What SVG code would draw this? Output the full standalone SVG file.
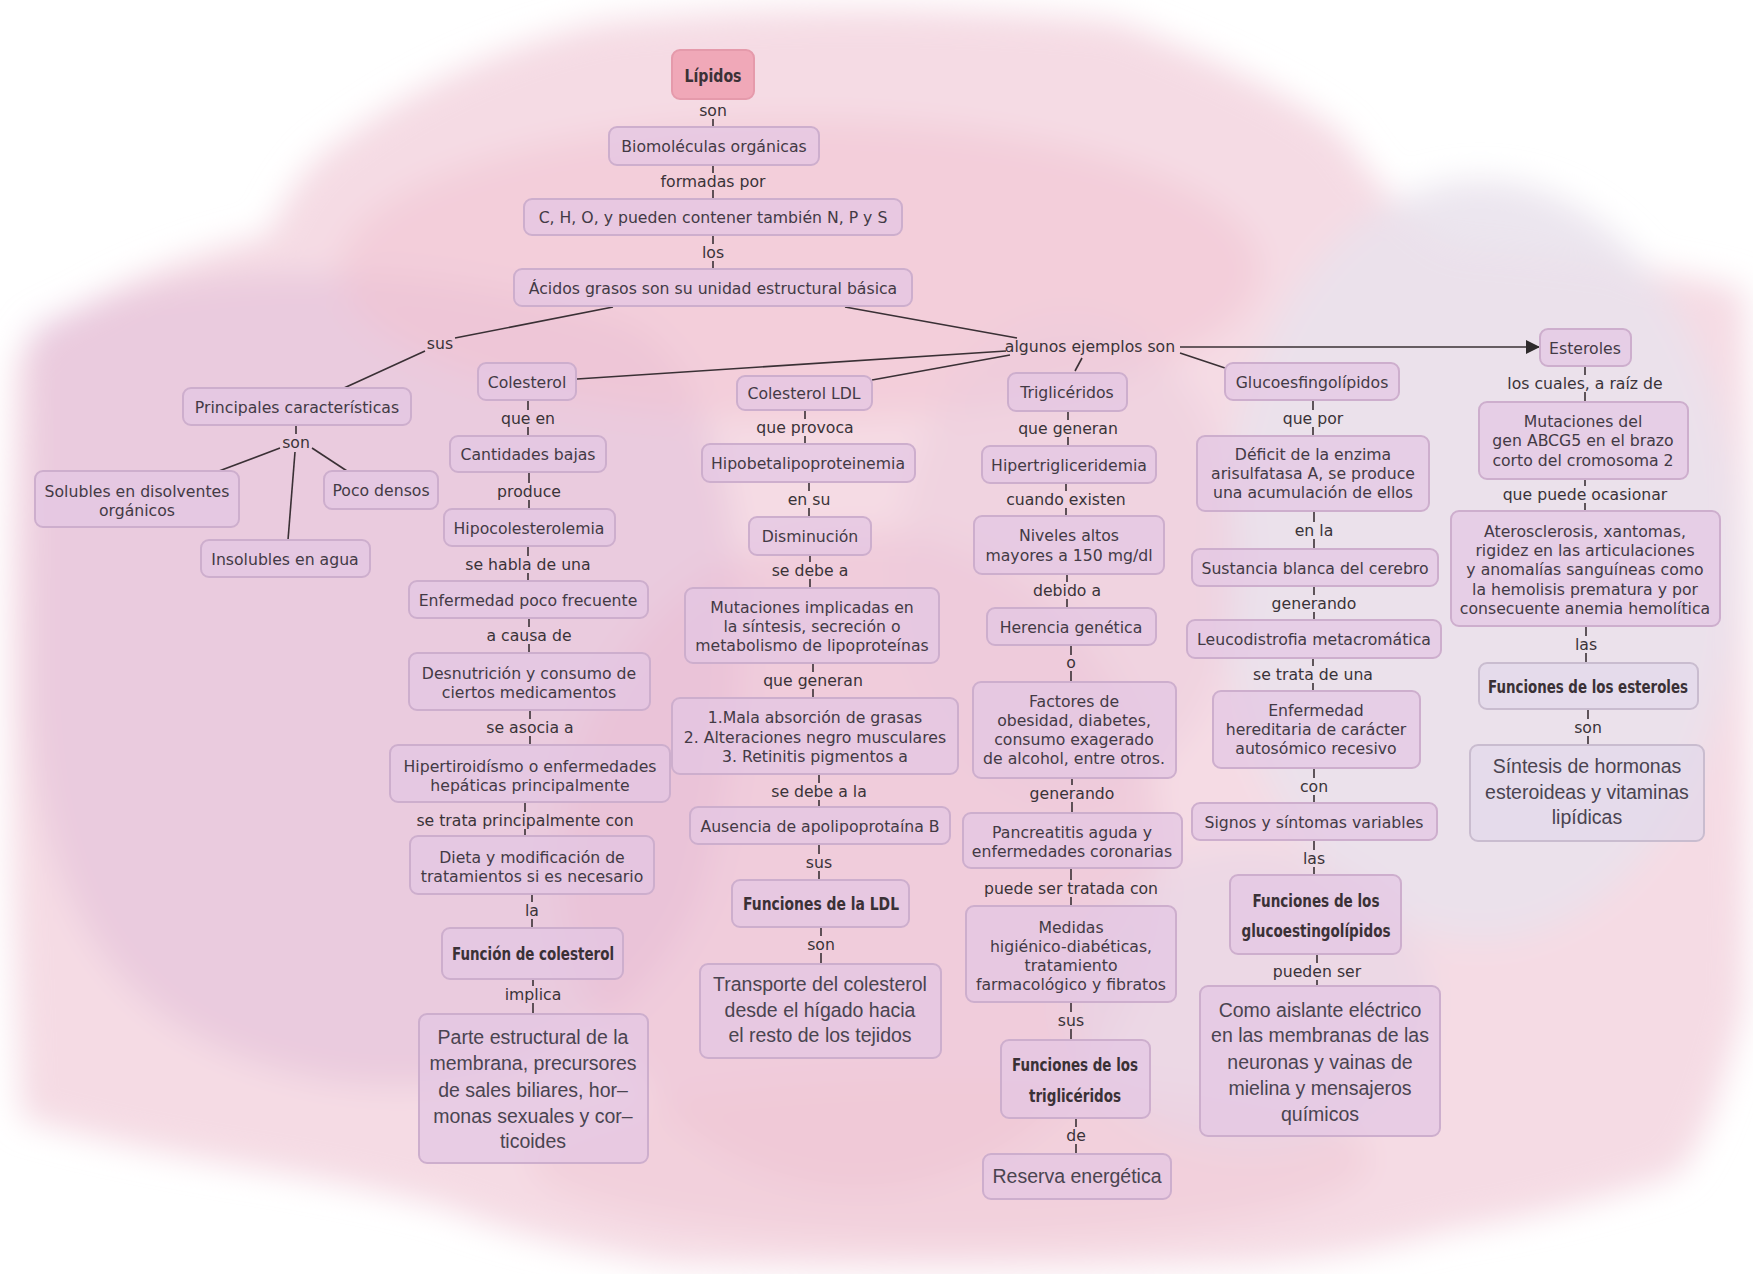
<svg xmlns="http://www.w3.org/2000/svg" width="1753" height="1274" viewBox="0 0 1753 1274">
<defs>
<filter id="blur" x="-20%" y="-20%" width="140%" height="140%"><feGaussianBlur stdDeviation="16"/></filter>
<marker id="arr" viewBox="0 0 10 10" refX="10" refY="5" markerWidth="14" markerHeight="14" markerUnits="userSpaceOnUse" orient="auto"><path d="M0,0 L10,5 L0,10 Z" fill="#2e2a2c"/></marker>
<style>
.n rect{fill:#e3c6e3;fill-opacity:.72;stroke:#cdaecd;stroke-width:2}
.n.gr rect{fill:#e2d8ea;stroke:#c9bccf}
.n.pk rect{fill:#f0a8b8;fill-opacity:1;stroke:#e59aab}
.t{font-family:"DejaVu Sans",Verdana,sans-serif;font-size:15.7px;fill:#433a45;text-anchor:middle}
.b{font-family:"Liberation Sans",Arial,sans-serif;font-size:19.5px;fill:#4a4450;text-anchor:middle}
.h{font-family:"DejaVu Sans Condensed","DejaVu Sans",sans-serif;font-weight:bold;font-size:18px;fill:#3a3136;text-anchor:middle}
.l{font-family:"DejaVu Sans",Verdana,sans-serif;font-size:15.7px;fill:#3a3338;text-anchor:middle}
#conn line{stroke:#3a3035;stroke-width:1.6;fill:none}
</style>
</defs>
<rect width="1753" height="1274" fill="#ffffff"/>
<g id="bg" filter="url(#blur)">
<path d="M17,358 C80,290 200,250 268,235 C290,190 310,160 335,145 C420,80 520,40 604,22 C760,5 960,5 1118,22 C1220,60 1300,100 1342,134 C1380,190 1420,230 1453,246 C1560,255 1680,270 1744,290 C1750,500 1750,800 1744,1006 C1720,1100 1700,1150 1677,1174 C1600,1200 1520,1220 1453,1230 C1380,1250 1300,1262 1230,1264 C1050,1270 850,1270 671,1264 C580,1250 500,1230 447,1208 C380,1190 300,1175 224,1163 C150,1150 80,1135 22,1118 C10,900 8,600 17,358 Z" fill="#f5dbe4"/>
<path d="M30,330 C150,260 420,250 640,330 C760,420 760,700 700,900 C620,1080 420,1120 250,1060 C110,1010 40,900 30,700 Z" fill="#e2bfdb" opacity=".6"/>
<ellipse cx="800" cy="270" rx="460" ry="150" fill="#f1c2d0" opacity=".5"/>
<ellipse cx="860" cy="860" rx="300" ry="330" fill="#ecbad0" opacity=".45"/>
<ellipse cx="1480" cy="560" rx="260" ry="380" fill="#e9e2ec" opacity=".85"/>
<ellipse cx="950" cy="1160" rx="420" ry="80" fill="#f0c6d4" opacity=".5"/>
<ellipse cx="1250" cy="1000" rx="180" ry="150" fill="#e6d6e6" opacity=".6"/>
<ellipse cx="1070" cy="560" rx="170" ry="240" fill="#ebc9dc" opacity=".45"/>
</g>

<g id="conn">
<line x1="713" y1="119" x2="713" y2="127"/>
<line x1="713" y1="165" x2="713" y2="173"/><line x1="713" y1="190" x2="713" y2="199"/>
<line x1="713" y1="235" x2="713" y2="244"/><line x1="713" y1="261" x2="713" y2="269"/>
<line x1="613" y1="307" x2="455" y2="338"/>
<line x1="425" y1="351" x2="344" y2="388"/>
<line x1="845" y1="307" x2="1017" y2="338"/>
<line x1="1006" y1="351" x2="577" y2="379"/>
<line x1="1010" y1="355" x2="872" y2="380"/>
<line x1="1082" y1="358" x2="1075" y2="371"/>
<line x1="1180" y1="353" x2="1225" y2="368"/>
<line x1="1180" y1="347" x2="1540" y2="347" marker-end="url(#arr)"/>
<line x1="296" y1="425" x2="296" y2="434"/>
<line x1="280" y1="448" x2="219" y2="471"/>
<line x1="295" y1="452" x2="288" y2="540"/>
<line x1="312" y1="448" x2="347" y2="471"/>
<line x1="528" y1="400" x2="528" y2="410"/><line x1="528" y1="427" x2="528" y2="436"/>
<line x1="529" y1="472" x2="529" y2="483"/><line x1="529" y1="500" x2="529" y2="509"/>
<line x1="528" y1="546" x2="528" y2="556"/><line x1="528" y1="573" x2="528" y2="581"/>
<line x1="529" y1="618" x2="529" y2="627"/><line x1="529" y1="644" x2="529" y2="653"/>
<line x1="530" y1="710" x2="530" y2="719"/><line x1="530" y1="736" x2="530" y2="745"/>
<line x1="525" y1="802" x2="525" y2="812"/><line x1="525" y1="829" x2="525" y2="836"/>
<line x1="532" y1="894" x2="532" y2="902"/><line x1="532" y1="919" x2="532" y2="928"/>
<line x1="533" y1="979" x2="533" y2="986"/><line x1="533" y1="1003" x2="533" y2="1014"/>
<line x1="805" y1="410" x2="805" y2="419"/><line x1="805" y1="436" x2="805" y2="444"/>
<line x1="809" y1="482" x2="809" y2="491"/><line x1="809" y1="508" x2="809" y2="517"/>
<line x1="810" y1="555" x2="810" y2="562"/><line x1="810" y1="579" x2="810" y2="588"/>
<line x1="813" y1="663" x2="813" y2="672"/><line x1="813" y1="689" x2="813" y2="698"/>
<line x1="819" y1="774" x2="819" y2="783"/><line x1="819" y1="800" x2="819" y2="807"/>
<line x1="819" y1="844" x2="819" y2="854"/><line x1="819" y1="871" x2="819" y2="880"/>
<line x1="821" y1="927" x2="821" y2="936"/><line x1="821" y1="953" x2="821" y2="964"/>
<line x1="1068" y1="411" x2="1068" y2="420"/><line x1="1068" y1="437" x2="1068" y2="446"/>
<line x1="1066" y1="483" x2="1066" y2="491"/><line x1="1066" y1="508" x2="1066" y2="516"/>
<line x1="1067" y1="574" x2="1067" y2="582"/><line x1="1067" y1="599" x2="1067" y2="608"/>
<line x1="1071" y1="645" x2="1071" y2="655"/><line x1="1071" y1="671" x2="1071" y2="682"/>
<line x1="1072" y1="778" x2="1072" y2="785"/><line x1="1072" y1="802" x2="1072" y2="813"/>
<line x1="1071" y1="868" x2="1071" y2="880"/><line x1="1071" y1="897" x2="1071" y2="906"/>
<line x1="1071" y1="1002" x2="1071" y2="1012"/><line x1="1071" y1="1029" x2="1071" y2="1040"/>
<line x1="1076" y1="1118" x2="1076" y2="1127"/><line x1="1076" y1="1144" x2="1076" y2="1154"/>
<line x1="1313" y1="400" x2="1313" y2="410"/><line x1="1313" y1="427" x2="1313" y2="436"/>
<line x1="1314" y1="511" x2="1314" y2="522"/><line x1="1314" y1="539" x2="1314" y2="549"/>
<line x1="1314" y1="586" x2="1314" y2="595"/><line x1="1314" y1="612" x2="1314" y2="620"/>
<line x1="1313" y1="658" x2="1313" y2="666"/><line x1="1313" y1="683" x2="1313" y2="691"/>
<line x1="1314" y1="768" x2="1314" y2="778"/><line x1="1314" y1="795" x2="1314" y2="803"/>
<line x1="1314" y1="840" x2="1314" y2="850"/><line x1="1314" y1="867" x2="1314" y2="875"/>
<line x1="1317" y1="954" x2="1317" y2="963"/><line x1="1317" y1="980" x2="1317" y2="986"/>
<line x1="1585" y1="366" x2="1585" y2="375"/><line x1="1585" y1="392" x2="1585" y2="402"/>
<line x1="1585" y1="479" x2="1585" y2="486"/><line x1="1585" y1="503" x2="1585" y2="511"/>
<line x1="1586" y1="626" x2="1586" y2="636"/><line x1="1586" y1="653" x2="1586" y2="663"/>
<line x1="1588" y1="709" x2="1588" y2="719"/><line x1="1588" y1="736" x2="1588" y2="745"/>
</g>

<g id="labels">
<text class="l" x="713" y="116">son</text>
<text class="l" x="713" y="187">formadas por</text>
<text class="l" x="713" y="258">los</text>
<text class="l" x="440" y="349">sus</text>
<text class="l" x="1090" y="352">algunos ejemplos son</text>
<text class="l" x="296" y="448">son</text>
<text class="l" x="528" y="424">que en</text>
<text class="l" x="529" y="497">produce</text>
<text class="l" x="528" y="570">se habla de una</text>
<text class="l" x="529" y="641">a causa de</text>
<text class="l" x="530" y="733">se asocia a</text>
<text class="l" x="525" y="826">se trata principalmente con</text>
<text class="l" x="532" y="916">la</text>
<text class="l" x="533" y="1000">implica</text>
<text class="l" x="805" y="433">que provoca</text>
<text class="l" x="809" y="505">en su</text>
<text class="l" x="810" y="576">se debe a</text>
<text class="l" x="813" y="686">que generan</text>
<text class="l" x="819" y="797">se debe a la</text>
<text class="l" x="819" y="868">sus</text>
<text class="l" x="821" y="950">son</text>
<text class="l" x="1068" y="434">que generan</text>
<text class="l" x="1066" y="505">cuando existen</text>
<text class="l" x="1067" y="596">debido a</text>
<text class="l" x="1071" y="668">o</text>
<text class="l" x="1072" y="799">generando</text>
<text class="l" x="1071" y="894">puede ser tratada con</text>
<text class="l" x="1071" y="1026">sus</text>
<text class="l" x="1076" y="1141">de</text>
<text class="l" x="1313" y="424">que por</text>
<text class="l" x="1314" y="536">en la</text>
<text class="l" x="1314" y="609">generando</text>
<text class="l" x="1313" y="680">se trata de una</text>
<text class="l" x="1314" y="792">con</text>
<text class="l" x="1314" y="864">las</text>
<text class="l" x="1317" y="977">pueden ser</text>
<text class="l" x="1585" y="389">los cuales, a raíz de</text>
<text class="l" x="1585" y="500">que puede ocasionar</text>
<text class="l" x="1586" y="650">las</text>
<text class="l" x="1588" y="733">son</text>
</g>

<g id="lipidos" class="n pk"><rect x="672" y="50" width="82" height="49" rx="8"/><text class="h" x="713" y="82" font-size="20" textLength="57" lengthAdjust="spacingAndGlyphs">Lípidos</text></g>
<g id="biomoleculas" class="n"><rect x="609" y="127" width="210" height="38" rx="8"/><text class="t" x="714" y="151.6">Biomoléculas orgánicas</text></g>
<g id="chon" class="n"><rect x="524" y="199" width="378" height="36" rx="8"/><text class="t" x="713" y="222.6">C, H, O, y pueden contener también N, P y S</text></g>
<g id="acidos" class="n"><rect x="514" y="269" width="398" height="37" rx="8"/><text class="t" x="713" y="293.6">Ácidos grasos son su unidad estructural básica</text></g>

<g id="principales" class="n"><rect x="183" y="388" width="228" height="37" rx="8"/><text class="t" x="297" y="412.6">Principales características</text></g>
<g id="solubles" class="n"><rect x="35" y="471" width="204" height="56" rx="8"/><text class="t"><tspan x="137" y="496.6">Solubles en disolventes</tspan><tspan x="137" y="515.6">orgánicos</tspan></text></g>
<g id="poco" class="n"><rect x="324" y="471" width="114" height="38" rx="8"/><text class="t" x="381" y="495.6">Poco densos</text></g>
<g id="insolubles" class="n"><rect x="201" y="540" width="169" height="37" rx="8"/><text class="t" x="285" y="564.6">Insolubles en agua</text></g>

<g id="colesterol" class="n"><rect x="478" y="363" width="98" height="37" rx="8"/><text class="t" x="527" y="387.6">Colesterol</text></g>
<g id="cantidades" class="n"><rect x="450" y="436" width="156" height="36" rx="8"/><text class="t" x="528" y="459.6">Cantidades bajas</text></g>
<g id="hipocol" class="n"><rect x="444" y="509" width="171" height="37" rx="8"/><text class="t" x="529" y="533.6">Hipocolesterolemia</text></g>
<g id="enfpoco" class="n"><rect x="409" y="581" width="239" height="37" rx="8"/><text class="t" x="528" y="605.6">Enfermedad poco frecuente</text></g>
<g id="desnut" class="n"><rect x="409" y="653" width="241" height="57" rx="8"/><text class="t"><tspan x="529" y="678.6">Desnutrición y consumo de</tspan><tspan x="529" y="697.6">ciertos medicamentos</tspan></text></g>
<g id="hipertiro" class="n"><rect x="390" y="745" width="280" height="57" rx="8"/><text class="t"><tspan x="530" y="771.6">Hipertiroidísmo o enfermedades</tspan><tspan x="530" y="790.6">hepáticas principalmente</tspan></text></g>
<g id="dieta" class="n"><rect x="410" y="836" width="244" height="58" rx="8"/><text class="t"><tspan x="532" y="862.6">Dieta y modificación de</tspan><tspan x="532" y="881.6">tratamientos si es necesario</tspan></text></g>
<g id="funcol" class="n"><rect x="442" y="928" width="181" height="51" rx="8"/><text class="h" x="533" y="960" textLength="162" lengthAdjust="spacingAndGlyphs">Función de colesterol</text></g>
<g id="parte" class="n"><rect x="419" y="1014" width="229" height="149" rx="8"/><text class="b"><tspan x="533" y="1044">Parte estructural de la</tspan><tspan x="533" y="1070">membrana, precursores</tspan><tspan x="533" y="1097">de sales biliares, hor–</tspan><tspan x="533" y="1123">monas sexuales y cor–</tspan><tspan x="533" y="1148">ticoides</tspan></text></g>

<g id="ldl" class="n"><rect x="737" y="376" width="135" height="34" rx="8"/><text class="t" x="804" y="398.6">Colesterol LDL</text></g>
<g id="hipobeta" class="n"><rect x="702" y="444" width="213" height="38" rx="8"/><text class="t" x="808" y="468.6">Hipobetalipoproteinemia</text></g>
<g id="disminucion" class="n"><rect x="749" y="517" width="122" height="38" rx="8"/><text class="t" x="810" y="541.6">Disminución</text></g>
<g id="mutaciones" class="n"><rect x="685" y="588" width="254" height="75" rx="8"/><text class="t"><tspan x="812" y="612.6">Mutaciones implicadas en</tspan><tspan x="812" y="631.6">la síntesis, secreción o</tspan><tspan x="812" y="650.6">metabolismo de lipoproteínas</tspan></text></g>
<g id="mala" class="n"><rect x="672" y="698" width="286" height="76" rx="8"/><text class="t"><tspan x="815" y="722.6">1.Mala absorción de grasas</tspan><tspan x="815" y="742.6">2. Alteraciones negro musculares</tspan><tspan x="815" y="761.6">3. Retinitis pigmentos a</tspan></text></g>
<g id="ausencia" class="n"><rect x="690" y="807" width="260" height="37" rx="8"/><text class="t" x="820" y="831.6">Ausencia de apolipoprotaína B</text></g>
<g id="funldl" class="n"><rect x="732" y="880" width="177" height="47" rx="8"/><text class="h" x="821" y="910" textLength="156" lengthAdjust="spacingAndGlyphs">Funciones de la LDL</text></g>
<g id="transporte" class="n"><rect x="700" y="964" width="241" height="94" rx="8"/><text class="b"><tspan x="820" y="991">Transporte del colesterol</tspan><tspan x="820" y="1017">desde el hígado hacia</tspan><tspan x="820" y="1042">el resto de los tejidos</tspan></text></g>

<g id="trigliceridos" class="n"><rect x="1008" y="373" width="119" height="38" rx="8"/><text class="t" x="1067" y="397.6">Triglicéridos</text></g>
<g id="hipertrig" class="n"><rect x="982" y="446" width="174" height="37" rx="8"/><text class="t" x="1069" y="470.6">Hipertrigliceridemia</text></g>
<g id="niveles" class="n"><rect x="974" y="516" width="190" height="58" rx="8"/><text class="t"><tspan x="1069" y="540.6">Niveles altos</tspan><tspan x="1069" y="560.6">mayores a 150 mg/dl</tspan></text></g>
<g id="herencia" class="n"><rect x="987" y="608" width="169" height="37" rx="8"/><text class="t" x="1071" y="632.6">Herencia genética</text></g>
<g id="factores" class="n"><rect x="973" y="682" width="203" height="96" rx="8"/><text class="t"><tspan x="1074" y="706.6">Factores de</tspan><tspan x="1074" y="725.6">obesidad, diabetes,</tspan><tspan x="1074" y="744.6">consumo exagerado</tspan><tspan x="1074" y="763.6">de alcohol, entre otros.</tspan></text></g>
<g id="pancreatitis" class="n"><rect x="963" y="813" width="219" height="55" rx="8"/><text class="t"><tspan x="1072" y="837.6">Pancreatitis aguda y</tspan><tspan x="1072" y="856.6">enfermedades coronarias</tspan></text></g>
<g id="medidas" class="n"><rect x="966" y="906" width="210" height="96" rx="8"/><text class="t"><tspan x="1071" y="932.6">Medidas</tspan><tspan x="1071" y="951.6">higiénico-diabéticas,</tspan><tspan x="1071" y="970.6">tratamiento</tspan><tspan x="1071" y="989.6">farmacológico y fibratos</tspan></text></g>
<g id="funtrig" class="n"><rect x="1001" y="1040" width="149" height="78" rx="8"/><text class="h"><tspan x="1075" y="1071" textLength="126" lengthAdjust="spacingAndGlyphs">Funciones de los</tspan><tspan x="1075" y="1102" textLength="92" lengthAdjust="spacingAndGlyphs">triglicéridos</tspan></text></g>
<g id="reserva" class="n"><rect x="983" y="1154" width="188" height="45" rx="8"/><text class="b" x="1077" y="1183">Reserva energética</text></g>

<g id="gluco" class="n"><rect x="1225" y="363" width="174" height="37" rx="8"/><text class="t" x="1312" y="387.6">Glucoesfingolípidos</text></g>
<g id="deficit" class="n"><rect x="1197" y="436" width="232" height="75" rx="8"/><text class="t"><tspan x="1313" y="459.6">Déficit de la enzima</tspan><tspan x="1313" y="478.6">arisulfatasa A, se produce</tspan><tspan x="1313" y="497.6">una acumulación de ellos</tspan></text></g>
<g id="sustancia" class="n"><rect x="1192" y="549" width="246" height="37" rx="8"/><text class="t" x="1315" y="573.6">Sustancia blanca del cerebro</text></g>
<g id="leuco" class="n"><rect x="1187" y="620" width="254" height="38" rx="8"/><text class="t" x="1314" y="644.6">Leucodistrofia metacromática</text></g>
<g id="enfhered" class="n"><rect x="1213" y="691" width="207" height="77" rx="8"/><text class="t"><tspan x="1316" y="715.6">Enfermedad</tspan><tspan x="1316" y="734.6">hereditaria de carácter</tspan><tspan x="1316" y="753.6">autosómico recesivo</tspan></text></g>
<g id="signos" class="n"><rect x="1192" y="803" width="245" height="37" rx="8"/><text class="t" x="1314" y="827.6">Signos y síntomas variables</text></g>
<g id="fungluco" class="n"><rect x="1230" y="875" width="171" height="79" rx="8"/><text class="h"><tspan x="1316" y="907" textLength="127" lengthAdjust="spacingAndGlyphs">Funciones de los</tspan><tspan x="1316" y="937" textLength="149" lengthAdjust="spacingAndGlyphs">glucoestingolípidos</tspan></text></g>
<g id="como" class="n"><rect x="1200" y="986" width="240" height="150" rx="8"/><text class="b"><tspan x="1320" y="1017">Como aislante eléctrico</tspan><tspan x="1320" y="1042">en las membranas de las</tspan><tspan x="1320" y="1069">neuronas y vainas de</tspan><tspan x="1320" y="1095">mielina y mensajeros</tspan><tspan x="1320" y="1121">químicos</tspan></text></g>

<g id="esteroles" class="n"><rect x="1540" y="329" width="91" height="37" rx="8"/><text class="t" x="1585" y="353.6">Esteroles</text></g>
<g id="mutgen" class="n"><rect x="1479" y="402" width="209" height="77" rx="8"/><text class="t"><tspan x="1583" y="426.6">Mutaciones del</tspan><tspan x="1583" y="445.6">gen ABCG5 en el brazo</tspan><tspan x="1583" y="465.6">corto del cromosoma 2</tspan></text></g>
<g id="ateros" class="n"><rect x="1451" y="511" width="269" height="115" rx="8"/><text class="t"><tspan x="1585" y="536.6">Aterosclerosis, xantomas,</tspan><tspan x="1585" y="555.6">rigidez en las articulaciones</tspan><tspan x="1585" y="574.6">y anomalías sanguíneas como</tspan><tspan x="1585" y="594.6">la hemolisis prematura y por</tspan><tspan x="1585" y="613.6">consecuente anemia hemolítica</tspan></text></g>
<g id="funest" class="n gr"><rect x="1479" y="663" width="219" height="46" rx="8"/><text class="h" x="1588" y="693" textLength="200" lengthAdjust="spacingAndGlyphs">Funciones de los esteroles</text></g>
<g id="sintesis" class="n gr"><rect x="1470" y="745" width="234" height="96" rx="8"/><text class="b"><tspan x="1587" y="773">Síntesis de hormonas</tspan><tspan x="1587" y="799">esteroideas y vitaminas</tspan><tspan x="1587" y="824">lipídicas</tspan></text></g>
</svg>
